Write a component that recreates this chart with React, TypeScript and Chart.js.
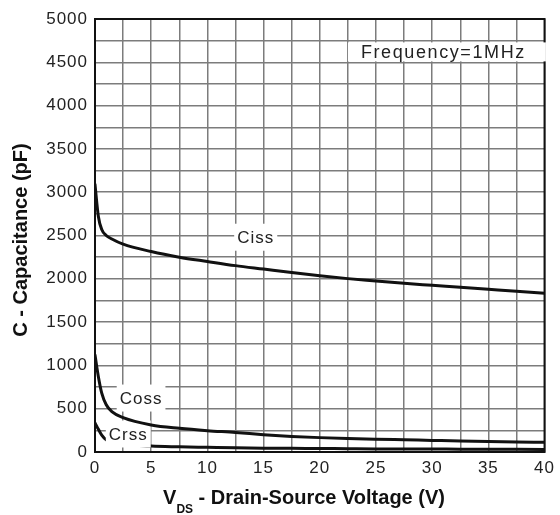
import React, { useEffect, useRef } from "react";
import { Chart, registerables } from "chart.js";

Chart.register(...registerables);

// Drain-source voltage sample points (V)
const vds = [0, 0.3, 0.6, 1, 1.5, 2.5, 5, 7.5, 10, 12.5, 15, 17.5, 20, 22.5, 25, 27.5, 30, 32.5, 35, 37.5, 40];
// Input capacitance (pF)
const ciss = [3090, 2720, 2570, 2500, 2460, 2400, 2315, 2250, 2200, 2152, 2112, 2072, 2035, 2002, 1975, 1948, 1925, 1902, 1879, 1856, 1833];
// Output capacitance (pF)
const coss = [1120, 870, 680, 545, 465, 396, 312, 273, 246, 226, 200, 180, 166, 156, 148, 141, 134, 127, 121, 116, 112];
// Reverse transfer capacitance (pF)
const crss = [335, 262, 195, 140, 115, 90, 68, 60, 54, 48, 44, 42, 40, 38, 36, 35, 34, 33, 32, 31, 30];

const seriesNames = ["Ciss", "Coss", "Crss"];
const xTickLabels = ["0", "5", "10", "15", "20", "25", "30", "35", "40"];
const yTickLabels = ["0", "500", "1000", "1500", "2000", "2500", "3000", "3500", "4000", "4500", "5000"];

const FONT = "'Liberation Sans', Arial, Helvetica, sans-serif";
const TEXT = "#222";
const GRID = "#7c7c7c";

// In-plot notes anchored in data coordinates, each on a white plate
const notes = [
  { text: "Ciss", x: 14.3, y: 2480, size: 17, spacing: 1, padL: 3, padR: 3, padY: 5 },
  { text: "Coss", x: 4.1, y: 623, size: 17, spacing: 1, padL: 3, padR: 3, padY: 5 },
  { text: "Crss", x: 2.96, y: 208, size: 17, spacing: 1, padL: 3, padR: 3, padY: 5 },
  { text: "Frequency=1MHz", x: 31.0, y: 4620, size: 18, spacing: 1.6, padL: 13, padR: 20, padY: 1 },
];

const series = [ciss, coss, crss];

function drawNotes(chart: any) {
  const { ctx, scales } = chart;
  ctx.save();
  ctx.textAlign = "center";
  ctx.textBaseline = "middle";
  for (const n of notes) {
    ctx.font = `${n.size}px ${FONT}`;
    ctx.letterSpacing = `${n.spacing}px`;
    const px = scales.x.getPixelForValue(n.x);
    const py = scales.y.getPixelForValue(n.y);
    const w = ctx.measureText(n.text).width;
    const h = 17;
    ctx.fillStyle = "#fff";
    ctx.fillRect(px - w / 2 - n.padL, py - h / 2 - n.padY, w + n.padL + n.padR, h + 2 * n.padY);
    ctx.fillStyle = TEXT;
    ctx.fillText(n.text, px, py + 1);
  }
  ctx.restore();
}

function drawTitles(chart: any) {
  const { ctx } = chart;
  ctx.save();
  ctx.fillStyle = "#111";
  ctx.letterSpacing = "0px";

  // Vertical axis title
  ctx.font = `bold 20px ${FONT}`;
  ctx.save();
  ctx.translate(21, 240);
  ctx.rotate(-Math.PI / 2);
  ctx.textAlign = "center";
  ctx.textBaseline = "middle";
  ctx.fillText("C - Capacitance (pF)", 0, 0);
  ctx.restore();

  // Horizontal axis title with subscript
  const big = `bold 20px ${FONT}`;
  const small = `bold 12px ${FONT}`;
  const head = "V";
  const sub = "DS";
  const tail = " - Drain-Source Voltage (V)";
  ctx.font = big;
  const wHead = ctx.measureText(head).width;
  const wTail = ctx.measureText(tail).width;
  ctx.font = small;
  const wSub = ctx.measureText(sub).width;
  const total = wHead + wSub + wTail;
  let x = 304 - total / 2;
  const base = 504;
  ctx.textAlign = "left";
  ctx.textBaseline = "alphabetic";
  ctx.font = big;
  ctx.fillText(head, x, base);
  x += wHead;
  ctx.font = small;
  ctx.fillText(sub, x, base + 9);
  x += wSub;
  ctx.font = big;
  ctx.fillText(tail, x, base);
  ctx.restore();
}

const decor = {
  id: "decor",
  beforeDraw(chart: any) {
    chart.ctx.letterSpacing = "1px";
  },
  beforeDatasetsDraw(chart: any) {
    const { ctx, chartArea: a } = chart;
    ctx.save();
    ctx.strokeStyle = "#111";
    ctx.lineWidth = 2;
    ctx.strokeRect(a.left, a.top, a.right - a.left, a.bottom - a.top);
    ctx.restore();
  },
  afterDatasetDraw(chart: any, args: any) {
    if (args.index === 2) drawNotes(chart);
  },
  afterDraw(chart: any) {
    drawTitles(chart);
  },
};

export default function App() {
  const ref = useRef<HTMLCanvasElement>(null);

  useEffect(() => {
    const canvas = ref.current;
    if (!canvas) return;
    const chart = new Chart(canvas, {
      type: "line",
      data: {
        datasets: series.map((vals, i) => ({
          label: seriesNames[i],
          data: vds.map((v, k) => ({ x: v, y: vals[k] })),
          borderColor: "#111",
          borderWidth: 3,
          pointRadius: 0,
          fill: false,
          cubicInterpolationMode: "monotone" as const,
          borderCapStyle: "round" as const,
        })),
      },
      options: {
        responsive: false,
        animation: false,
        devicePixelRatio: 1,
        layout: { padding: { top: 19, right: 12, left: 0, bottom: 0 } },
        plugins: { legend: { display: false }, tooltip: { enabled: false } },
        scales: {
          x: {
            type: "linear",
            min: 0,
            max: 40,
            afterFit: (s: any) => {
              s.height = 63;
            },
            ticks: {
              stepSize: 2.5,
              autoSkip: false,
              maxRotation: 0,
              padding: 6,
              color: TEXT,
              font: { family: FONT, size: 17 },
              callback: (v: any) => {
                const i = xTickLabels.indexOf(String(v));
                return i >= 0 ? xTickLabels[i] : "";
              },
            },
            grid: { color: GRID, lineWidth: 1.5, drawTicks: false },
            border: { display: false },
          },
          y: {
            type: "linear",
            min: 0,
            max: 5000,
            afterFit: (s: any) => {
              s.width = 95;
            },
            ticks: {
              stepSize: 250,
              autoSkip: false,
              padding: 7,
              color: TEXT,
              font: { family: FONT, size: 17 },
              callback: (v: any) => {
                const i = yTickLabels.indexOf(String(v));
                return i >= 0 ? yTickLabels[i] : "";
              },
            },
            grid: { color: GRID, lineWidth: 1.5, drawTicks: false },
            border: { display: false },
          },
        },
      },
      plugins: [decor],
    });
    return () => chart.destroy();
  }, []);

  return (
    <div style={{ position: "absolute", left: 0, top: 0, width: 560, height: 515, background: "#fff" }}>
      <canvas ref={ref} width={560} height={515} style={{ display: "block" }} />
    </div>
  );
}
